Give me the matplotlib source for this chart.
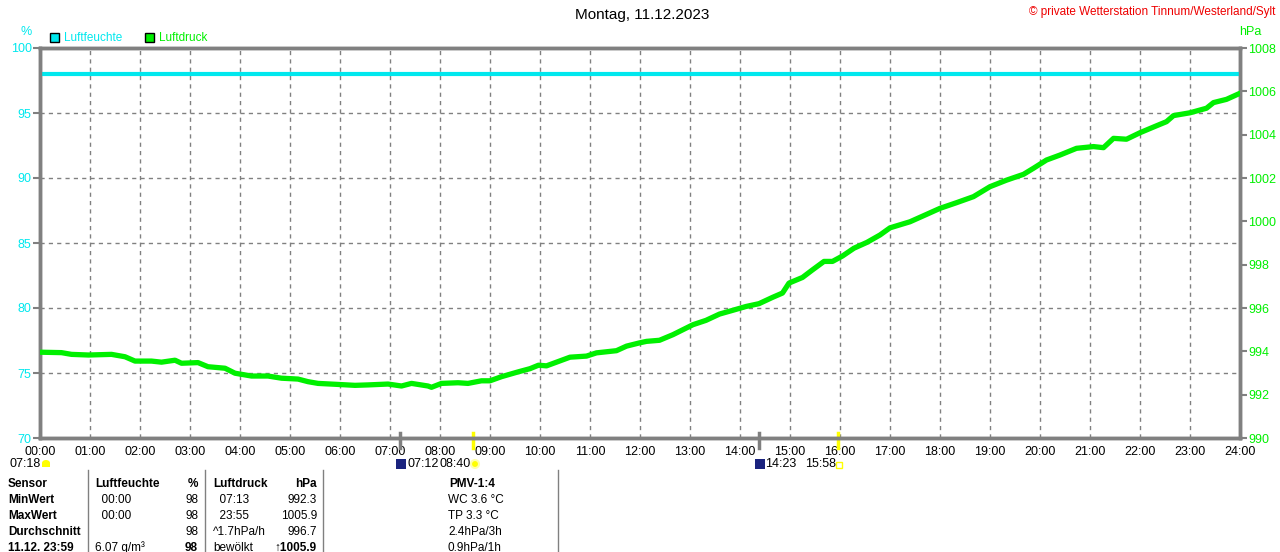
import matplotlib
matplotlib.use("Agg")
import matplotlib.pyplot as plt
from matplotlib.patches import Rectangle, Ellipse

plt.rcParams['font.family'] = ['Liberation Sans', 'DejaVu Sans']

# --- data ---
hum_hours = [0.0, 24.0]
hum_values = [98, 98]

p_hours = [0.0, 0.43, 0.63, 0.97, 1.43, 1.7, 1.9, 2.23, 2.43, 2.7, 2.83, 3.16, 3.36,
           3.7, 3.9, 4.23, 4.56, 4.83, 5.16, 5.36, 5.56, 5.9, 6.3, 6.56, 6.96, 7.23,
           7.43, 7.76, 7.83, 8.03, 8.36, 8.56, 8.83, 9.0, 9.23, 9.56, 9.8, 9.97,
           10.13, 10.33, 10.6, 10.93, 11.13, 11.53, 11.73, 11.99, 12.13, 12.39,
           12.66, 12.86, 13.06, 13.32, 13.59, 13.85, 14.12, 14.38, 14.65, 14.85,
           14.98, 15.25, 15.45, 15.68, 15.85, 16.05, 16.28, 16.54, 16.8, 17.0,
           17.4, 17.73, 18.0, 18.33, 18.67, 19.0, 19.33, 19.67, 19.87, 20.13, 20.4,
           20.73, 21.07, 21.27, 21.47, 21.73, 22.0, 22.33, 22.53, 22.67, 23.0,
           23.33, 23.47, 23.73, 23.97]
p_values = [993.96, 993.94, 993.86, 993.83, 993.86, 993.75, 993.55, 993.55, 993.5,
            993.59, 993.45, 993.48, 993.29, 993.22, 992.99, 992.86, 992.86, 992.76,
            992.72, 992.6, 992.52, 992.48, 992.43, 992.45, 992.49, 992.4, 992.52,
            992.4, 992.34, 992.52, 992.55, 992.52, 992.64, 992.64, 992.83, 993.05,
            993.2, 993.36, 993.33, 993.5, 993.73, 993.78, 993.93, 994.03, 994.24,
            994.39, 994.46, 994.51, 994.77, 995.0, 995.23, 995.43, 995.72, 995.89,
            996.07, 996.2, 996.49, 996.69, 997.15, 997.41, 997.76, 998.15, 998.15,
            998.4, 998.76, 999.03, 999.37, 999.7, 999.98, 1000.32, 1000.6, 1000.86,
            1001.14, 1001.6, 1001.9, 1002.17, 1002.45, 1002.83, 1003.06, 1003.37,
            1003.45, 1003.4, 1003.83, 1003.79, 1004.09, 1004.41, 1004.6, 1004.88,
            1005.01, 1005.22, 1005.48, 1005.63, 1005.88]

hour_labels = ["%02d:00" % h for h in range(25)]
event_hours = [7.2, 8.667, 14.383, 15.967]
event_colors = ['#808080', '#ffff00', '#808080', '#ffff00']

table_rows = [
    ["Sensor", "Luftfeuchte", "%", "Luftdruck", "hPa", "PMV-1:4"],
    ["MinWert", "  00:00", "98", "  07:13", "992.3", "WC 3.6 °C"],
    ["MaxWert", "  00:00", "98", "  23:55", "1005.9", "TP 3.3 °C"],
    ["Durchschnitt", "", "98", "^1.7hPa/h", "996.7", "2.4hPa/3h"],
    ["11.12. 23:59", "6.07 g/m³", "98", "bewölkt", "\u21911005.9", "0.9hPa/1h"],
]

CYAN = '#00e8ee'
GREEN = '#00f000'
GRAY = '#808080'
W, H = 1280, 552

fig = plt.figure(figsize=(W / 100, H / 100), dpi=100)
ax = fig.add_axes([40 / W, 1 - 438 / H, 1200 / W, 390 / H])
ax2 = ax.twinx()

ax.set_xlim(0, 24)
ax.set_ylim(70, 100)
ax2.set_ylim(990, 1008)
ax.set_xticks(range(25))
ax.set_xticklabels(hour_labels)
ax.set_yticks(range(70, 101, 5))
ax2.set_yticks(range(990, 1009, 2))

ax.grid(True, color=GRAY, linestyle=(0, (3, 3)), linewidth=1)
for a in (ax, ax2):
    for s in a.spines.values():
        s.set_color(GRAY)
        s.set_linewidth(2.5)
ax.tick_params(axis='x', length=0, pad=6, labelsize=9, colors='black')
ax.tick_params(axis='y', length=5, width=1.5, color=GRAY, labelcolor=CYAN, labelsize=9, pad=1)
ax2.tick_params(axis='y', length=5, width=1.5, color=GRAY, labelcolor=GREEN, labelsize=9, pad=1)

ax.plot(hum_hours, hum_values, color=CYAN, linewidth=3, solid_capstyle='butt', zorder=3)
ax2.plot(p_hours, p_values, color=GREEN, linewidth=3.8, zorder=3)

# sun markers below x axis
for h, c in zip(event_hours, event_colors):
    ax.plot([h, h], [0.013, -0.026], color=c, linewidth=2.5,
            transform=ax.get_xaxis_transform(), clip_on=False)


def ft(x, y, s, **kw):
    fig.text(x / W, 1 - y / H, s, va='center', **kw)


def rect(x, y, w, h, **kw):
    # pixel box, y = top edge
    fig.patches.append(Rectangle((x / W, 1 - (y + h) / H), w / W, h / H,
                                 transform=fig.transFigure, **kw))


def ell(x, y, w, h, **kw):
    fig.patches.append(Ellipse((x / W, 1 - y / H), w / W, h / H,
                               transform=fig.transFigure, **kw))


ft(642, 15, "Montag, 11.12.2023", ha='center', fontsize=11, color='black')
ft(1275, 12, "© private Wetterstation Tinnum/Westerland/Sylt", ha='right',
   fontsize=8.5, color='#ee0000')
ft(26, 32, "%", ha='center', fontsize=9, color=CYAN)
ft(1250, 32, "hPa", ha='center', fontsize=9, color=GREEN)

# legend
rect(50, 33, 9, 9, facecolor=CYAN, edgecolor='black', linewidth=1)
ft(64, 38, "Luftfeuchte", fontsize=8.5, color=CYAN)
rect(145, 33, 9, 9, facecolor=GREEN, edgecolor='black', linewidth=1)
ft(159, 38, "Luftdruck", fontsize=8.5, color=GREEN)

# sun / moon info row
ft(10, 464, "07:18", fontsize=9)
rect(42, 463, 8, 4, facecolor='#ffff00', edgecolor='none')
ell(46, 463, 8, 6, facecolor='#ffff00', edgecolor='none')
rect(396, 459, 10, 10, facecolor='#1a237e', edgecolor='none')
ft(407, 464, "07:12", fontsize=9)
ft(440, 464, "08:40", fontsize=9)
ell(475, 464, 8, 8, facecolor='#ffff00', edgecolor='#ffffaa', linewidth=1.5)
rect(755, 459, 10, 10, facecolor='#1a237e', edgecolor='none')
ft(765, 464, "14:23", fontsize=9)
ft(805, 464, "15:58", fontsize=9)
rect(836, 462, 6, 6, facecolor='white', edgecolor='#ffff00', linewidth=1)

# table
for xs in (88, 205, 323, 558):
    fig.add_artist(plt.Line2D([xs / W, xs / W], [0, 1 - 470 / H], color=GRAY, linewidth=1))

col_x = [8, 95, 198, 213, 317, 472]
col_ha = ['left', 'left', 'right', 'left', 'right', 'center']
row_y = [484, 500, 516, 532, 548]
for r, (y, row) in enumerate(zip(row_y, table_rows)):
    for c, txt in enumerate(row):
        bold = r == 0 or c == 0 or (r == 4 and c in (2, 4))
        x, ha = col_x[c], col_ha[c]
        if r > 0 and c == 5:
            bold, x, ha = False, 448, 'left'
        ft(x, y, txt, ha=ha, fontsize=8.5,
           fontweight='bold' if bold else 'normal', color='black')

fig.savefig("out.png", dpi=100)
